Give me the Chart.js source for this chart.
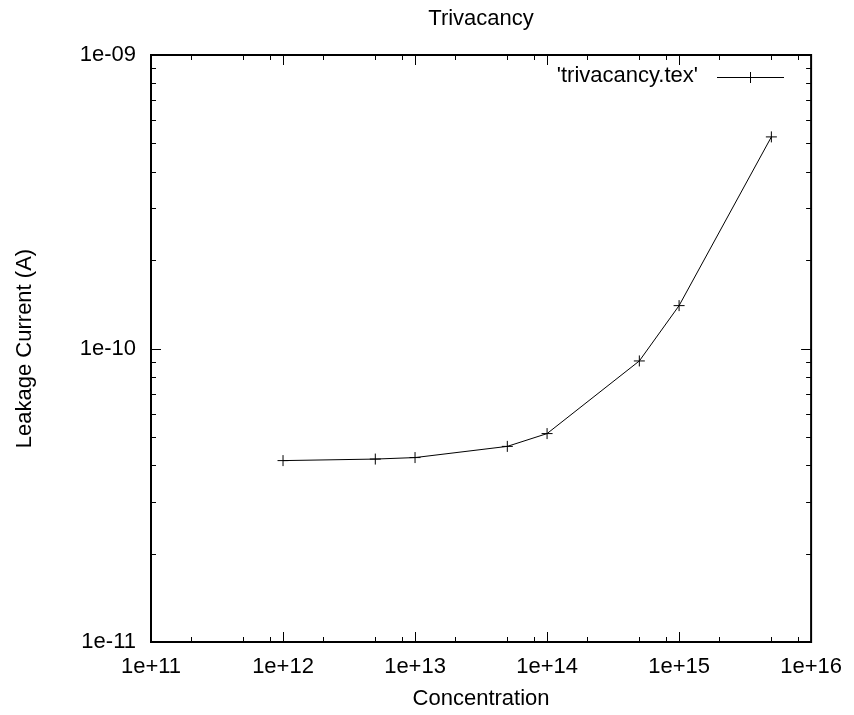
<!doctype html>
<html lang="en">
<head>
    <meta charset="utf-8">
    <title>Trivacancy</title>
    <style>
        body { margin: 0; background: #fff; }
        #container { width: 854px; height: 715px; }
    </style>
</head>
<body>
    <div id="container">
        <canvas id="myChart" width="854" height="715"></canvas>
    </div>

    <script src="https://cdn.jsdelivr.net/npm/chart.js@4.4.0/dist/chart.umd.min.js"></script>

    <script>
        // values
        let concentration = [1e12, 5e12, 1e13, 5e13, 1e14, 5e14, 1e15, 5e15];
        let leakage = [4.15e-11, 4.20e-11, 4.25e-11, 4.64e-11, 5.13e-11, 9.07e-11, 1.40e-10, 5.26e-10];

        let xMajor = [1e11, 1e12, 1e13, 1e14, 1e15, 1e16];
        let xTickLabels = ['1e+11', '1e+12', '1e+13', '1e+14', '1e+15', '1e+16'];
        let yMajor = [1e-11, 1e-10, 1e-9];
        let yTickLabels = ['1e-11', '1e-10', '1e-09'];
        let xMinorSteps = [2, 5, 8];
        let yMinorSteps = [2, 3, 4, 5, 6, 7, 8, 9];

        let seriesName = "'trivacancy.tex'";
        let chartTitle = 'Trivacancy';

        const FONT = 'Liberation Sans, Arial, sans-serif';
        const FSIZE = 22;

        Chart.defaults.font.family = FONT;
        Chart.defaults.font.size = FSIZE;
        Chart.defaults.color = '#000';

        function minorTicks(majors, steps) {
            let out = [];
            majors.slice(0, -1).forEach(m => steps.forEach(s => out.push(m * s)));
            return out;
        }

        // gnuplot style frame: ticks inside on all four sides, title and key
        const gnuplotFrame = {
            id: 'gnuplotFrame',
            afterDraw(chart) {
                const ctx = chart.ctx;
                const a = chart.chartArea;
                const xs = chart.scales.x, ys = chart.scales.y;
                ctx.save();
                ctx.strokeStyle = '#000';

                // ticks
                ctx.lineWidth = 1;
                ctx.beginPath();
                function xt(v, len) {
                    let px = Math.round(xs.getPixelForValue(v)) + 0.5;
                    ctx.moveTo(px, a.bottom); ctx.lineTo(px, a.bottom - len);
                    ctx.moveTo(px, a.top); ctx.lineTo(px, a.top + len);
                }
                function yt(v, len) {
                    let py = Math.round(ys.getPixelForValue(v)) + 0.5;
                    ctx.moveTo(a.left, py); ctx.lineTo(a.left + len, py);
                    ctx.moveTo(a.right, py); ctx.lineTo(a.right - len, py);
                }
                xMajor.forEach(v => xt(v, 10));
                minorTicks(xMajor, xMinorSteps).forEach(v => xt(v, 5));
                yMajor.forEach(v => yt(v, 10));
                minorTicks(yMajor, yMinorSteps).forEach(v => yt(v, 5));
                ctx.stroke();

                // border
                ctx.lineWidth = 2;
                ctx.strokeRect(a.left, a.top, a.right - a.left, a.bottom - a.top);

                // title
                ctx.fillStyle = '#000';
                ctx.font = FSIZE + 'px ' + FONT;
                ctx.textAlign = 'center';
                ctx.textBaseline = 'middle';
                ctx.fillText(chartTitle, (a.left + a.right) / 2, 19);

                // key
                ctx.textAlign = 'right';
                ctx.fillText(seriesName, 698, 76);
                ctx.lineWidth = 1;
                ctx.beginPath();
                ctx.moveTo(717, 77.5); ctx.lineTo(784, 77.5);
                ctx.moveTo(750.5, 72); ctx.lineTo(750.5, 83);
                ctx.moveTo(745, 77.5); ctx.lineTo(756, 77.5);
                ctx.stroke();
                ctx.restore();
            }
        };

        let ctx = document.getElementById('myChart').getContext('2d');

        let myChart = new Chart(ctx, {
            type: 'line',
            data: {
                datasets: [{
                    label: seriesName,
                    data: concentration.map((c, i) => ({ x: c, y: leakage[i] })),
                    borderColor: '#000',
                    backgroundColor: '#000',
                    borderWidth: 1,
                    pointStyle: 'cross',
                    pointRadius: 5.5,
                    pointBorderWidth: 1,
                    pointBorderColor: '#000',
                    tension: 0,
                    fill: false
                }]
            },
            options: {
                responsive: false,
                animation: false,
                layout: { padding: { top: 55, right: 42, left: 0, bottom: 0 } },
                plugins: {
                    legend: { display: false },
                    title: { display: false },
                    tooltip: { enabled: false }
                },
                scales: {
                    x: {
                        type: 'logarithmic',
                        min: 1e11,
                        max: 1e16,
                        afterBuildTicks: s => { s.ticks = xMajor.map(v => ({ value: v })); },
                        afterFit: s => { s.height = 73; },
                        grid: { display: false, drawTicks: false },
                        border: { display: false },
                        ticks: {
                            autoSkip: false,
                            maxRotation: 0,
                            padding: 12,
                            callback: (v, i) => xTickLabels[i]
                        },
                        title: {
                            display: true,
                            text: 'Concentration',
                            padding: { top: 0, bottom: 3 }
                        }
                    },
                    y: {
                        type: 'logarithmic',
                        min: 1e-11,
                        max: 1e-9,
                        afterBuildTicks: s => { s.ticks = yMajor.map(v => ({ value: v })); },
                        afterFit: s => { s.width = 151; },
                        grid: { display: false, drawTicks: false },
                        border: { display: false },
                        ticks: {
                            autoSkip: false,
                            padding: 15,
                            callback: (v, i) => yTickLabels[i]
                        },
                        title: {
                            display: true,
                            text: 'Leakage Current (A)',
                            padding: { top: 12, bottom: 0 }
                        }
                    }
                }
            },
            plugins: [gnuplotFrame]
        });
    </script>
</body>
</html>
